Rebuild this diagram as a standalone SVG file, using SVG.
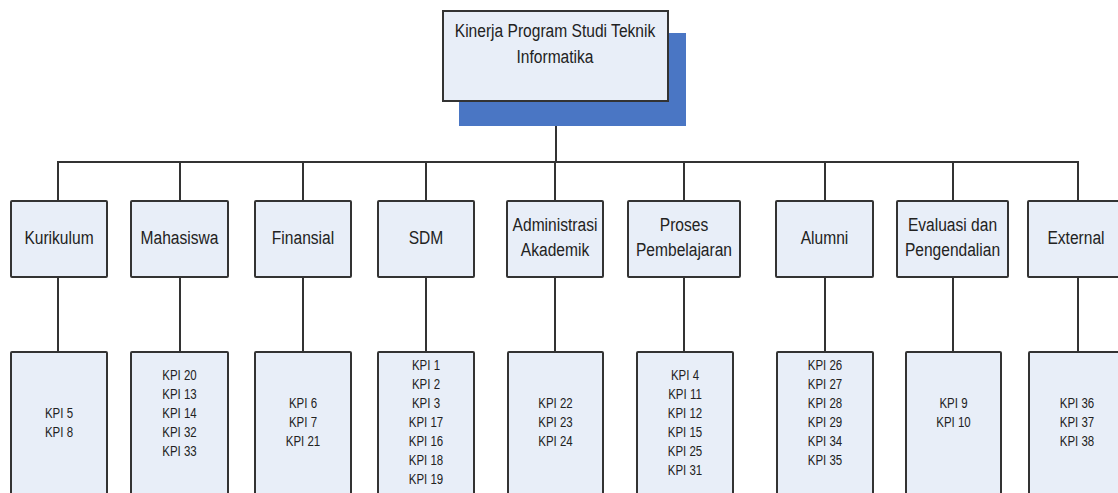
<svg xmlns="http://www.w3.org/2000/svg" width="1118" height="493" viewBox="0 0 1118 493">
<style>
.box{fill:#E8EEF8;stroke:#333333;stroke-width:2}
.shadow{fill:#4A76C4}
.ln{fill:none;stroke:#333333;stroke-width:2}
.t{font-family:"Liberation Sans",Arial,sans-serif;font-size:19px;fill:#222222;text-anchor:middle}
.k{font-family:"Liberation Sans",Arial,sans-serif;font-size:14px;fill:#222222;text-anchor:middle}
</style>
<rect width="1118" height="493" fill="#ffffff"/>
<g id="connectors">
<line class="ln" x1="556" y1="101" x2="556" y2="162"/>
<line class="ln" x1="57" y1="162" x2="1079" y2="162"/>
<path class="ln" d="M58 162V201M58 277V352"/>
<path class="ln" d="M180 162V201M180 277V352"/>
<path class="ln" d="M303 162V201M303 277V352"/>
<path class="ln" d="M426 162V201M426 277V352"/>
<path class="ln" d="M555 162V201M555 277V352"/>
<path class="ln" d="M684 162V201M684 277V352"/>
<path class="ln" d="M825 162V201M825 277V352"/>
<path class="ln" d="M953 162V201M953 277V352"/>
<path class="ln" d="M1078 162V201M1078 277V352"/>
</g>
<g id="root">
<rect class="shadow" x="459" y="33" width="227" height="93"/>
<rect class="box" x="443" y="11" width="225" height="90" stroke="#111111"/>
<g transform="translate(555 0) scale(0.82 1)"><text class="t" x="0" y="37" font-size="19.5">Kinerja Program Studi Teknik</text><text class="t" x="0" y="63" font-size="19.5">Informatika</text></g>
</g>
<g id="kurikulum">
<rect class="box" x="11" y="201" width="96" height="76" rx="1"/>
<g transform="translate(59 0) scale(0.82 1)"><text class="t" x="0" y="244">Kurikulum</text></g>
</g>
<g id="mahasiswa">
<rect class="box" x="131" y="201" width="97" height="76" rx="1"/>
<g transform="translate(179.5 0) scale(0.82 1)"><text class="t" x="0" y="244">Mahasiswa</text></g>
</g>
<g id="finansial">
<rect class="box" x="255" y="201" width="96" height="76" rx="1"/>
<g transform="translate(303 0) scale(0.82 1)"><text class="t" x="0" y="244">Finansial</text></g>
</g>
<g id="sdm">
<rect class="box" x="378" y="201" width="96" height="76" rx="1"/>
<g transform="translate(426 0) scale(0.82 1)"><text class="t" x="0" y="244">SDM</text></g>
</g>
<g id="administrasi">
<rect class="box" x="507" y="201" width="96" height="76" rx="1"/>
<g transform="translate(555 0) scale(0.82 1)"><text class="t" x="0" y="231">Administrasi</text><text class="t" x="0" y="256">Akademik</text></g>
</g>
<g id="proses">
<rect class="box" x="628" y="201" width="112" height="76" rx="1"/>
<g transform="translate(684 0) scale(0.82 1)"><text class="t" x="0" y="231">Proses</text><text class="t" x="0" y="256">Pembelajaran</text></g>
</g>
<g id="alumni">
<rect class="box" x="776" y="201" width="97" height="76" rx="1"/>
<g transform="translate(824.5 0) scale(0.82 1)"><text class="t" x="0" y="244">Alumni</text></g>
</g>
<g id="evaluasi">
<rect class="box" x="897" y="201" width="111" height="76" rx="1"/>
<g transform="translate(952.5 0) scale(0.82 1)"><text class="t" x="0" y="231">Evaluasi dan</text><text class="t" x="0" y="256">Pengendalian</text></g>
</g>
<g id="external">
<rect class="box" x="1028" y="201" width="96" height="76" rx="1"/>
<g transform="translate(1076 0) scale(0.82 1)"><text class="t" x="0" y="244">External</text></g>
</g>
<g id="kpi-kurikulum">
<rect class="box" x="11" y="352" width="96" height="150" rx="1"/>
<g transform="translate(59 0) scale(0.82 1)"><text class="k" x="0" y="418">KPI 5</text><text class="k" x="0" y="437">KPI 8</text></g>
</g>
<g id="kpi-mahasiswa">
<rect class="box" x="131" y="352" width="97" height="150" rx="1"/>
<g transform="translate(179.5 0) scale(0.82 1)"><text class="k" x="0" y="380">KPI 20</text><text class="k" x="0" y="399">KPI 13</text><text class="k" x="0" y="418">KPI 14</text><text class="k" x="0" y="437">KPI 32</text><text class="k" x="0" y="456">KPI 33</text></g>
</g>
<g id="kpi-finansial">
<rect class="box" x="255" y="352" width="96" height="150" rx="1"/>
<g transform="translate(303 0) scale(0.82 1)"><text class="k" x="0" y="408">KPI 6</text><text class="k" x="0" y="427">KPI 7</text><text class="k" x="0" y="446">KPI 21</text></g>
</g>
<g id="kpi-sdm">
<rect class="box" x="378" y="352" width="96" height="150" rx="1"/>
<g transform="translate(426 0) scale(0.82 1)"><text class="k" x="0" y="370">KPI 1</text><text class="k" x="0" y="389">KPI 2</text><text class="k" x="0" y="408">KPI 3</text><text class="k" x="0" y="427">KPI 17</text><text class="k" x="0" y="446">KPI 16</text><text class="k" x="0" y="465">KPI 18</text><text class="k" x="0" y="484">KPI 19</text></g>
</g>
<g id="kpi-administrasi">
<rect class="box" x="508" y="352" width="95" height="150" rx="1"/>
<g transform="translate(555.5 0) scale(0.82 1)"><text class="k" x="0" y="408">KPI 22</text><text class="k" x="0" y="427">KPI 23</text><text class="k" x="0" y="446">KPI 24</text></g>
</g>
<g id="kpi-proses">
<rect class="box" x="637" y="352" width="96" height="150" rx="1"/>
<g transform="translate(685 0) scale(0.82 1)"><text class="k" x="0" y="380">KPI 4</text><text class="k" x="0" y="399">KPI 11</text><text class="k" x="0" y="418">KPI 12</text><text class="k" x="0" y="437">KPI 15</text><text class="k" x="0" y="456">KPI 25</text><text class="k" x="0" y="475">KPI 31</text></g>
</g>
<g id="kpi-alumni">
<rect class="box" x="777" y="352" width="96" height="150" rx="1"/>
<g transform="translate(825 0) scale(0.82 1)"><text class="k" x="0" y="370">KPI 26</text><text class="k" x="0" y="389">KPI 27</text><text class="k" x="0" y="408">KPI 28</text><text class="k" x="0" y="427">KPI 29</text><text class="k" x="0" y="446">KPI 34</text><text class="k" x="0" y="465">KPI 35</text></g>
</g>
<g id="kpi-evaluasi">
<rect class="box" x="906" y="352" width="95" height="150" rx="1"/>
<g transform="translate(953.5 0) scale(0.82 1)"><text class="k" x="0" y="408">KPI 9</text><text class="k" x="0" y="427">KPI 10</text></g>
</g>
<g id="kpi-external">
<rect class="box" x="1029" y="352" width="96" height="150" rx="1"/>
<g transform="translate(1077 0) scale(0.82 1)"><text class="k" x="0" y="408">KPI 36</text><text class="k" x="0" y="427">KPI 37</text><text class="k" x="0" y="446">KPI 38</text></g>
</g>
</svg>
